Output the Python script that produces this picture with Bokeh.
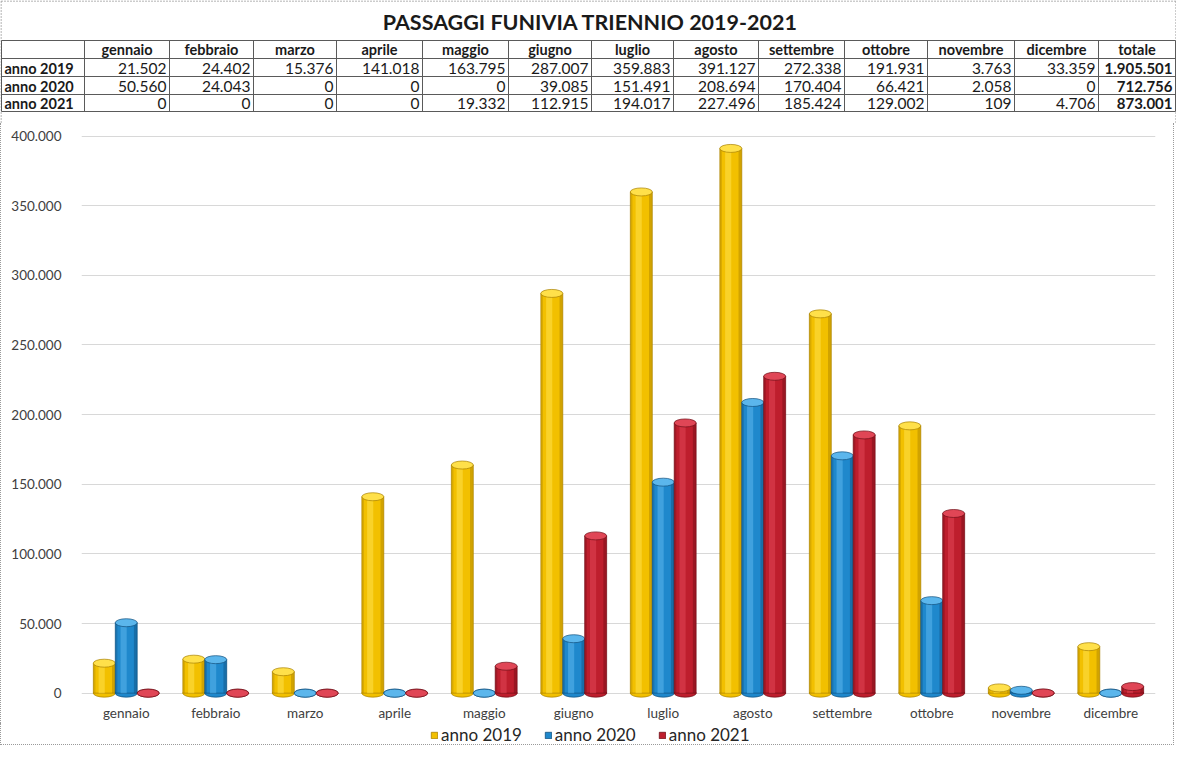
from bokeh.plotting import figure
from bokeh.models import (Range1d, FactorRange, FixedTicker, CustomJSTickFormatter,
                          Legend, LegendItem, ColumnDataSource)
from bokeh.transform import dodge
from bokeh.core.properties import value
from bokeh.embed import file_html
from bokeh.resources import INLINE

# ---------------- data ----------------
title = "PASSAGGI FUNIVIA TRIENNIO 2019-2021"
months = ["gennaio", "febbraio", "marzo", "aprile", "maggio", "giugno", "luglio",
          "agosto", "settembre", "ottobre", "novembre", "dicembre"]
total_label = "totale"
series_names = ["anno 2019", "anno 2020", "anno 2021"]
v2019 = [21502, 24402, 15376, 141018, 163795, 287007, 359883, 391127, 272338, 191931, 3763, 33359]
v2020 = [50560, 24043, 0, 0, 0, 39085, 151491, 208694, 170404, 66421, 2058, 0]
v2021 = [0, 0, 0, 0, 19332, 112915, 194017, 227496, 185424, 129002, 109, 4706]
totals = [1905501, 712756, 873001]
y_ticks = [0, 50000, 100000, 150000, 200000, 250000, 300000, 350000, 400000]

FONT = "Lato"
TXT = "#1a1a1a"
BORDER = "#9a9a9a"

base = ["#F2C000", "#1F88CC", "#BE1E2D"]
light = ["#FFE04A", "#5BB6EC", "#E04656"]
dark = ["#A88000", "#104F7C", "#6E0E17"]


def it_fmt(n):
    return f"{n:,}".replace(",", ".")


# ---------------- table figure ----------------
tab = figure(width=1176, height=123, x_range=Range1d(7, 1183), y_range=Range1d(130, 7),
             toolbar_location=None, output_backend="svg", min_border=0,
             x_axis_location=None, y_axis_location=None)
tab.grid.visible = False
tab.outline_line_color = None

colx = [8, 91, 176, 260, 343, 429, 515, 598, 680, 765, 851, 934, 1021, 1105, 1182]
rowy = [47, 65, 83, 101, 118]
line_col = "#5a5a5a"

# outer dotted frame of the whole sheet (top, left, right)
tab.segment(x0=[7.5, 7.5, 1182.5], x1=[1182.5, 7.5, 1182.5], y0=[7.5, 7.5, 7.5],
            y1=[7.5, 130, 130], line_color=BORDER, line_width=1, line_dash="2 1")

tab.segment(x0=[colx[0]] * len(rowy), x1=[colx[-1]] * len(rowy), y0=rowy, y1=rowy,
            line_color=line_col, line_width=1)
tab.segment(x0=colx, x1=colx, y0=[rowy[0]] * len(colx), y1=[rowy[-1]] * len(colx),
            line_color=line_col, line_width=1)

tab.text(x=[597], y=[28], text=[title], text_font=value(FONT),
         text_font_style="bold", text_font_size="21.5px", text_align="center",
         text_baseline="middle", text_color=TXT)

headers = months + [total_label]
hx = [(colx[i + 1] + colx[i + 2]) / 2 for i in range(len(headers))]
tab.text(x=hx, y=[(rowy[0] + rowy[1]) / 2] * len(headers), text=headers,
         text_font=value(FONT), text_font_style="bold", text_font_size="14.5px",
         text_align="center", text_baseline="middle", text_color=TXT)

rows = [v2019, v2020, v2021]
for r, (name, vals) in enumerate(zip(series_names, rows)):
    yc = (rowy[r + 1] + rowy[r + 2]) / 2 + 0.5
    tab.text(x=[colx[0] + 3], y=[yc], text=[name], text_font=value(FONT),
             text_font_style="bold", text_font_size="14.5px", text_align="left",
             text_baseline="middle", text_color=TXT)
    xs = [colx[i + 2] - 3 for i in range(len(vals))]
    tab.text(x=xs, y=[yc] * len(vals), text=[it_fmt(v) for v in vals],
             text_font=value(FONT), text_font_size="15.5px", text_align="right",
             text_baseline="middle", text_color=TXT)
    tab.text(x=[colx[-1] - 3], y=[yc], text=[it_fmt(totals[r])], text_font=value(FONT),
             text_font_style="bold", text_font_size="15px", text_align="right",
             text_baseline="middle", text_color=TXT)

# ---------------- chart figure ----------------
ch = figure(width=1174, height=600, x_range=FactorRange(*months),
            y_range=Range1d(-6000, 404000), toolbar_location=None, output_backend="svg",
            min_border_left=80, min_border_right=20, min_border_top=7, min_border_bottom=19,
            styles={"border-left": f"1px dotted {BORDER}", "border-right": f"1px dotted {BORDER}"})
ch.outline_line_color = None
ch.xgrid.grid_line_color = None
ch.ygrid.ticker = FixedTicker(ticks=y_ticks)
ch.ygrid.grid_line_color = "#d8d8d8"
ch.yaxis.ticker = FixedTicker(ticks=y_ticks)
ch.yaxis.formatter = CustomJSTickFormatter(
    code="return Math.round(tick).toString().replace(/\\B(?=(\\d{3})+(?!\\d))/g, '.');")
for ax in (ch.xaxis, ch.yaxis):
    ax.axis_line_color = None
    ax.major_tick_line_color = None
    ax.minor_tick_line_color = None
    ax.major_tick_out = 0
    ax.major_tick_in = 0
    ax.minor_tick_out = 0
    ax.major_label_text_font = FONT
    ax.major_label_text_font_size = "13.5px"
    ax.major_label_text_color = "#404040"
ch.yaxis.major_label_standoff = 20
ch.xaxis.major_label_standoff = 3

src = ColumnDataSource(dict(month=months, y2019=v2019, y2020=v2020, y2021=v2021))
cols = ["y2019", "y2020", "y2021"]
bw = 0.245
offsets = [-bw, 0.0, bw]

for col, b, l, d, off in zip(cols, base, light, dark, offsets):
    ch.ellipse(x=dodge("month", off, range=ch.x_range), y=0, width=22, height=8,
               width_units="screen", height_units="screen", source=src,
               fill_color=b, line_color=d, line_width=0.7)
    ch.vbar(x=dodge("month", off, range=ch.x_range), top=col, bottom=0, width=bw,
            source=src, fill_color=b, line_color=d, line_width=0.7)
    ch.vbar(x=dodge("month", off - bw * 0.12, range=ch.x_range), top=col, bottom=0,
            width=bw * 0.28, source=src, fill_color=l, fill_alpha=0.55, line_color=None)
    ch.vbar(x=dodge("month", off + bw * 0.42, range=ch.x_range), top=col, bottom=0,
            width=bw * 0.14, source=src, fill_color=d, fill_alpha=0.45, line_color=None)
    ch.vbar(x=dodge("month", off - bw * 0.45, range=ch.x_range), top=col, bottom=0,
            width=bw * 0.09, source=src, fill_color=d, fill_alpha=0.35, line_color=None)
    ch.ellipse(x=dodge("month", off, range=ch.x_range), y=col, width=22, height=8,
               width_units="screen", height_units="screen", source=src,
               fill_color=l, line_color=d, line_width=0.7)

# ---------------- legend strip ----------------
lg = figure(width=1174, height=22, x_range=Range1d(0, 1), y_range=Range1d(0, 1),
            toolbar_location=None, output_backend="svg", min_border=0,
            x_axis_location=None, y_axis_location=None,
            styles={"border-left": f"1px dotted {BORDER}", "border-right": f"1px dotted {BORDER}",
                    "border-bottom": f"1px dotted {BORDER}"})
lg.grid.visible = False
lg.outline_line_color = None
items = []
for name, b, d in zip(series_names, base, dark):
    # swatch renderer, kept outside the visible range: only its legend glyph shows
    rend = lg.vbar(x=[5], top=[5], width=0.1, fill_color=b, line_color=d, line_width=0.8)
    items.append(LegendItem(label=name, renderers=[rend]))
legend = Legend(items=items, location=(429, 0), orientation="horizontal",
                glyph_width=8, glyph_height=8, label_text_font=FONT,
                label_text_font_size="17px", label_text_color="#262626",
                padding=0, margin=0, spacing=22, label_standoff=3,
                border_line_color=None, background_fill_alpha=0)
lg.add_layout(legend)

open("out.html", "w").write(file_html([tab, ch, lg], INLINE))
